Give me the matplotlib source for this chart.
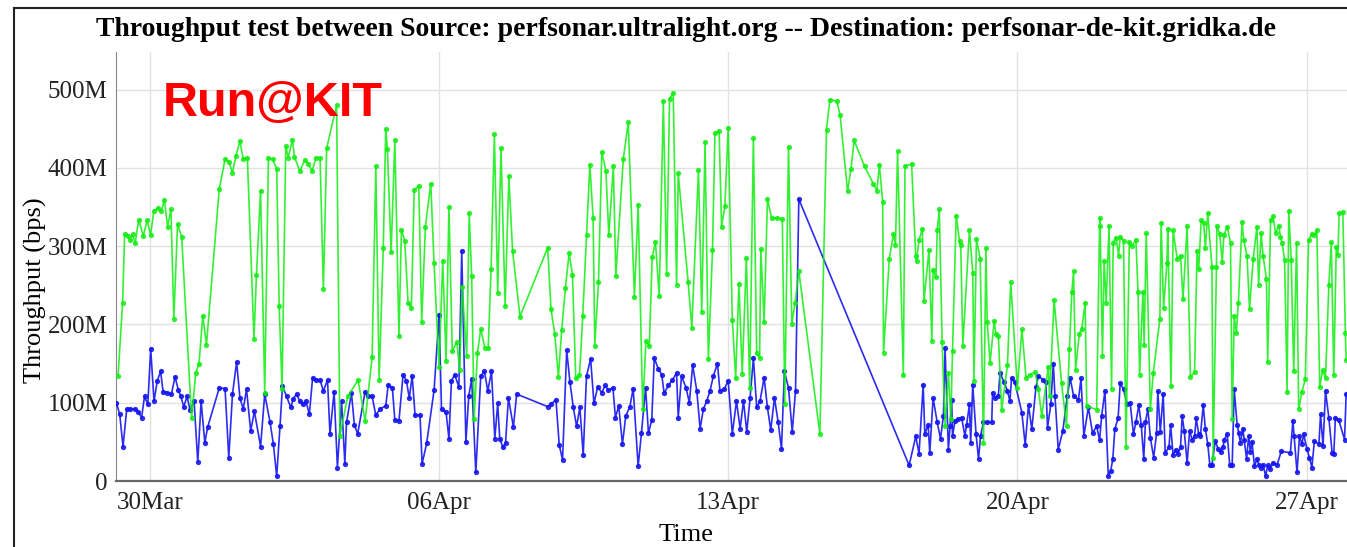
"""
Throughput test chart: perfsonar.ultralight.org -> perfsonar-de-kit.gridka.de
"""

import matplotlib
matplotlib.use("Agg")
import matplotlib.dates as mdates
import matplotlib.pyplot as plt
from matplotlib.lines import Line2D
from matplotlib.ticker import FixedLocator, FuncFormatter
import pandas as pd

# days since 30 Mar 00:00, throughput in Mbps
green_days = [
    -0.77, -0.66, -0.61, -0.52, -0.47, -0.42, -0.355, -0.27, -0.16, -0.065, 0.016, 0.097,
    0.20, 0.28, 0.35, 0.43, 0.51, 0.58, 0.67, 0.77, 1.01, 1.11, 1.19, 1.28, 1.37, 1.68,
    1.82, 1.91, 2.00, 2.08, 2.18, 2.26, 2.36, 2.52, 2.58, 2.68, 2.78, 2.87, 2.97, 3.07,
    3.13, 3.20, 3.29, 3.35, 3.45, 3.50, 3.63, 3.75, 3.83, 3.93, 4.02, 4.12,
    4.20, 4.28, 4.52, 4.60, 4.79, 5.04, 5.21, 5.38, 5.47, 5.55, 5.65, 5.71, 5.75, 5.84,
    5.93, 6.03, 6.09, 6.17, 6.25, 6.33, 6.40, 6.51, 6.58, 6.67, 6.80, 6.88, 7.00, 7.09,
    7.17, 7.24, 7.32, 7.43, 7.50, 7.56, 7.67, 7.73, 7.79, 7.85, 7.93, 8.01, 8.11, 8.19,
    8.26, 8.34, 8.42, 8.50, 8.60, 8.69, 8.78, 8.96,
    9.63, 9.71, 9.80, 9.89, 9.97, 10.06, 10.15, 10.23, 10.31, 10.40, 10.48, 10.57, 10.65,
    10.73, 10.77, 10.86, 10.94, 11.04, 11.11, 11.22, 11.28, 11.46, 11.58, 11.73, 11.82,
    11.93, 12.01, 12.09, 12.16, 12.24, 12.33, 12.43, 12.51, 12.58, 12.67, 12.75, 12.79,
    13.03, 13.12, 13.28, 13.36, 13.44, 13.52, 13.62, 13.68, 13.78, 13.84, 13.92, 14.00,
    14.10, 14.18, 14.26, 14.34, 14.44, 14.52, 14.61, 14.69, 14.76, 14.79, 14.87, 14.95,
    15.05, 15.17, 15.31, 15.37, 15.46, 15.54, 15.62, 15.71, 16.22, 16.38, 16.46, 16.63,
    16.71, 16.89, 16.97, 17.05, 17.30, 17.51, 17.60, 17.66, 17.74, 17.76, 17.90, 18.00,
    18.05, 18.10, 18.24, 18.28, 18.44, 18.54, 18.56, 18.62, 18.70, 18.74, 18.86, 18.93,
    18.96,
    19.03, 19.06, 19.11, 19.18, 19.25, 19.33, 19.39, 19.43, 19.52, 19.60, 19.63, 19.68,
    19.84, 19.92, 19.95, 20.01, 20.10, 20.18, 20.24, 20.27, 20.34, 20.44, 20.48, 20.54,
    20.62, 20.76, 20.84, 21.00, 21.11, 21.21, 21.31, 21.43, 21.51, 21.59, 21.75, 21.78,
    21.89, 22.07, 22.19, 22.26, 22.32, 22.36, 22.41, 22.50, 22.56, 22.64, 22.68, 22.92,
    22.99, 23.00, 23.06, 23.10, 23.15, 23.22, 23.28, 23.32, 23.39, 23.45, 23.49, 23.57,
    23.63, 23.71, 23.77, 23.87, 23.92,
    23.96, 24.04, 24.07, 24.12, 24.22, 24.29, 24.45, 24.48, 24.54, 24.62, 24.64, 24.72,
    24.77, 24.87, 24.95, 25.01, 25.11, 25.19, 25.29, 25.35, 25.39, 25.45, 25.51, 25.55,
    25.61, 25.71, 25.74, 25.82, 25.83, 25.90, 25.96, 26.00, 26.08, 26.16, 26.20, 26.25,
    26.30, 26.35, 26.44, 26.48, 26.56, 26.62, 26.71, 26.80, 26.84, 26.90, 26.95, 27.03,
    27.06, 27.13, 27.19, 27.25, 27.33, 27.37, 27.41, 27.47, 27.53, 27.57, 27.63, 27.69,
    27.76, 27.81, 27.89, 27.97, 28.05, 28.13, 28.19, 28.25, 28.32, 28.39, 28.46, 28.54,
    28.60, 28.66, 28.72, 28.76, 28.79, 28.88, 28.94, 28.96,
]
green_mbps = [
    134, 228, 316, 313, 308, 315, 304, 334, 313, 333, 314, 345,
    349, 345, 359, 325, 347, 207, 328, 312, 80, 138, 150, 211, 174, 373,
    411, 408, 394, 415, 434, 411, 413, 182, 263, 371, 113, 413, 411, 399,
    223, 118, 428, 413, 436, 414, 396, 410, 405, 396, 413, 413,
    245, 425, 480, 58, 108, 129, 77, 158, 402, 129, 298, 450, 424, 292,
    436, 185, 321, 307, 228, 221, 372, 377, 203, 325, 380, 278, 146, 281,
    153, 350, 166, 177, 142, 248, 160, 342, 262, 79, 164, 194, 170, 170,
    271, 443, 240, 425, 223, 389, 294, 210,
    298, 220, 188, 133, 193, 247, 291, 263, 131, 135, 211, 314, 404,
    336, 173, 254, 420, 396, 314, 402, 262, 411, 458, 235, 353,
    92, 179, 172, 286, 305, 236, 485, 264, 488, 496, 251, 393,
    254, 196, 397, 216, 433, 156, 295, 444, 447, 325, 351, 451,
    206, 131, 252, 137, 285, 119, 438, 163, 157, 296, 203, 360,
    336, 336, 335, 98, 427, 201, 228, 268, 60, 449, 487, 485,
    467, 370, 398, 435, 402, 380, 371, 404, 357, 164, 284, 315,
    302, 421, 135, 402, 405, 287, 281, 308, 322, 230, 295, 179,
    270,
    260, 320, 347, 177, 70, 138, 79, 166, 339, 306, 301, 173,
    321, 266, 128, 309, 284, 49, 297, 203, 151, 205, 188, 185,
    91, 148, 254, 119, 194, 132, 136, 139, 117, 83, 146, 108,
    231, 125, 70, 169, 242, 268, 142, 188, 194, 228, 96, 91,
    326, 336, 160, 281, 228, 326, 118, 304, 311, 288, 312, 307,
    44, 305, 300, 308, 242,
    136, 242, 174, 317, 92, 138, 207, 330, 221, 278, 322, 121,
    320, 284, 288, 232, 326, 133, 139, 294, 271, 333, 330, 298,
    342, 274, 30, 274, 326, 315, 280, 314, 325, 304, 79, 211,
    189, 228, 331, 308, 287, 220, 284, 325, 251, 317, 287, 258,
    152, 333, 338, 317, 326, 312, 304, 282, 114, 345, 282, 140,
    304, 92, 114, 130, 308, 316, 314, 321, 120, 142, 131, 250,
    305, 135, 299, 289, 342, 343, 189, 155,
]

blue_days = [
    -0.81, -0.73, -0.65, -0.56, -0.47, -0.355, -0.28, -0.20, -0.13, -0.05, 0.02, 0.10,
    0.18, 0.26, 0.32, 0.42, 0.52, 0.61, 0.69, 0.75, 0.82, 0.90, 0.97, 1.07, 1.16, 1.24,
    1.33, 1.40, 1.68, 1.82, 1.91, 2.00, 2.10, 2.18, 2.26, 2.34, 2.44, 2.53, 2.68, 2.78,
    2.91, 2.99, 3.07, 3.15, 3.21, 3.31, 3.41, 3.47, 3.55, 3.63, 3.71, 3.78, 3.86, 3.94,
    4.02, 4.12,
    4.20, 4.30, 4.36, 4.46, 4.54, 4.64, 4.72, 4.76, 4.88, 4.95, 5.03, 5.21, 5.29, 5.38,
    5.47, 5.57, 5.71, 5.77, 5.87, 5.93, 6.03, 6.13, 6.21, 6.28, 6.35, 6.42, 6.54, 6.59,
    6.70, 6.88, 7.00, 7.06, 7.17, 7.24, 7.30, 7.38, 7.48, 7.55, 7.65, 7.72, 7.79, 7.89,
    8.01, 8.10, 8.18, 8.27, 8.35, 8.42, 8.47, 8.55, 8.61, 8.68, 8.80, 8.88,
    9.63, 9.71, 9.83, 9.91, 9.99, 10.09, 10.17, 10.25, 10.33, 10.41, 10.49, 10.57, 10.67,
    10.75, 10.84, 10.94, 11.02, 11.10, 11.21, 11.27, 11.35, 11.44, 11.52, 11.62, 11.70,
    11.82, 11.90, 12.00, 12.07, 12.15, 12.21, 12.31, 12.39, 12.45, 12.55, 12.65, 12.75,
    12.79, 12.87, 12.98, 13.06, 13.14, 13.24, 13.32, 13.40, 13.48, 13.56, 13.64, 13.74,
    13.80, 13.90, 14.00,
    14.10, 14.20, 14.29, 14.37, 14.45, 14.53, 14.61, 14.69, 14.77, 14.87, 14.95, 15.03,
    15.12, 15.21, 15.29, 15.36, 15.46, 15.55, 15.63, 15.71, 18.38, 18.54, 18.62, 18.72,
    18.76, 18.84, 18.88, 18.96,
    19.06, 19.14, 19.21, 19.25, 19.33, 19.37, 19.41, 19.43, 19.49, 19.57, 19.65, 19.73,
    19.77, 19.84, 19.87, 19.92, 20.00, 20.06, 20.11, 20.18, 20.26, 20.38, 20.40, 20.46,
    20.54, 20.58, 20.68, 20.76, 20.82, 20.86, 20.94, 21.11, 21.19, 21.27, 21.35, 21.45,
    21.51, 21.63, 21.69, 21.73, 21.81, 21.87, 21.91, 21.99, 22.10, 22.21, 22.28, 22.36,
    22.48, 22.54, 22.61, 22.72, 22.82, 22.92, 22.99, 23.04, 23.12, 23.20, 23.26, 23.31,
    23.36, 23.44, 23.49, 23.57, 23.66, 23.73, 23.81, 23.87,
    23.94, 24.00, 24.06, 24.10, 24.16, 24.22, 24.30, 24.37, 24.40, 24.46, 24.53, 24.58,
    24.67, 24.71, 24.77, 24.83, 24.88, 24.95, 24.99, 25.04, 25.11, 25.17, 25.23, 25.29,
    25.33, 25.39, 25.43, 25.50, 25.55, 25.61, 25.66, 25.71, 25.79, 25.86, 25.92, 25.98,
    26.01, 26.08, 26.14, 26.20, 26.25, 26.32, 26.36, 26.40, 26.46, 26.49, 26.55, 26.60,
    26.64, 26.68, 26.74, 26.80, 26.84, 26.90, 26.95, 27.01, 27.06, 27.11, 27.19, 27.29,
    27.39, 27.61, 27.67, 27.70, 27.77, 27.83, 27.89, 27.93, 28.01, 28.07, 28.13, 28.19,
    28.30, 28.34, 28.40, 28.46, 28.54, 28.62, 28.66, 28.70, 28.78, 28.92, 28.96,
]
blue_mbps = [
    100, 85, 44, 92, 92, 92, 88, 81, 108, 98, 169, 102,
    128, 140, 114, 113, 111, 133, 116, 108, 95, 108, 91, 102, 24, 102,
    49, 69, 119, 118, 30, 111, 152, 106, 92, 117, 64, 89, 44, 111,
    75, 47, 6, 70, 121, 108, 94, 105, 111, 102, 98, 102, 85, 132,
    129, 129,
    115, 129, 60, 114, 17, 102, 22, 75, 112, 72, 60, 114, 109, 108,
    84, 92, 96, 123, 119, 78, 77, 136, 128, 106, 134, 84, 84, 22,
    48, 116, 212, 92, 88, 54, 128, 136, 120, 294, 50, 109, 130, 11,
    134, 140, 115, 140, 54, 99, 54, 43, 49, 106, 69, 111,
    95, 98, 104, 46, 27, 167, 126, 94, 70, 94, 33, 134, 156,
    99, 120, 113, 122, 116, 119, 81, 96, 47, 83, 95, 118,
    19, 61, 119, 61, 78, 157, 143, 136, 112, 122, 129, 138,
    81, 134, 119, 100, 148, 115, 67, 92, 102, 115, 134, 150,
    115, 117, 128,
    60, 102, 67, 102, 63, 106, 157, 94, 102, 132, 94, 65,
    106, 75, 41, 140, 119, 63, 115, 360, 20, 57, 35, 123,
    60, 72, 36, 106,
    75, 54, 83, 170, 40, 70, 104, 57, 77, 79, 81, 58,
    71, 98, 49, 123, 60, 28, 58, 75, 75, 75, 113, 106,
    109, 138, 126, 115, 102, 132, 126, 87, 46, 97, 66, 120,
    134, 129, 126, 68, 98, 150, 109, 40, 64, 109, 131, 109,
    104, 131, 58, 94, 61, 70, 52, 83, 115, 7, 13, 28,
    66, 81, 125, 117, 98, 100, 60, 75,
    97, 71, 28, 75, 92, 55, 30, 61, 115, 63, 111, 36,
    43, 72, 33, 40, 34, 43, 83, 64, 23, 64, 53, 57,
    80, 60, 57, 97, 67, 47, 20, 20, 51, 41, 37, 44,
    53, 60, 21, 20, 117, 72, 61, 49, 67, 53, 28, 58,
    37, 50, 19, 28, 21, 17, 21, 6, 20, 15, 23, 21,
    38, 36, 77, 57, 11, 57, 47, 60, 41, 30, 17, 51,
    47, 85, 45, 115, 81, 36, 34, 81, 78, 53, 111,
]

tick_dates = ["2016-03-30", "2016-04-06", "2016-04-13", "2016-04-20", "2016-04-27"]
ytick_values = [0, 100e6, 200e6, 300e6, 400e6, 500e6]
ytick_labels = ["0", "100M", "200M", "300M", "400M", "500M"]

SERIF = ["Liberation Serif", "DejaVu Serif"]
W, H = 1347, 547
base = pd.Timestamp("2016-03-30")


def to_time(days):
    return base + pd.to_timedelta(days, unit="D")


fig = plt.figure(figsize=(W / 100, H / 100), dpi=100)
ax = fig.add_axes([116 / W, 1 - 481 / H, 1 - 116 / W, 429 / H])

bt = to_time(blue_days)
gt = to_time(green_days)
ax.plot(bt, [v * 1e6 for v in blue_mbps], color="#1414f0", lw=1.2, marker="o",
        ms=3.8, mew=0, alpha=0.9, zorder=3)
ax.plot(gt, [v * 1e6 for v in green_mbps], color="#10ee10", lw=1.2, marker="o",
        ms=3.8, mew=0, alpha=0.85, zorder=4)

ax.set_xlim(to_time(-0.82), to_time(28.98))
ax.set_ylim(0, 548e6)

ax.xaxis.set_major_locator(FixedLocator(mdates.date2num(pd.to_datetime(tick_dates))))
ax.xaxis.set_major_formatter(mdates.DateFormatter("%d%b"))
ax.yaxis.set_major_locator(FixedLocator(ytick_values))
ax.yaxis.set_major_formatter(FuncFormatter(lambda v, p: ytick_labels[ytick_values.index(v)]
                                           if v in ytick_values else ""))

ax.grid(True, color="#e2e2e2", lw=1.0)
ax.set_axisbelow(True)
for side in ["top", "right"]:
    ax.spines[side].set_visible(False)
ax.spines["left"].set_color("#888888")
ax.spines["bottom"].set_color("#666666")
ax.spines["bottom"].set_linewidth(1.6)
ax.tick_params(axis="y", length=0, pad=6, labelsize=18, labelcolor="#222222")
ax.tick_params(axis="x", length=0, pad=8, labelsize=18, labelcolor="#222222")
for lab in ax.get_xticklabels() + ax.get_yticklabels():
    lab.set_family(SERIF)

# axis titles, placed in figure pixels to match the original page layout
fig.text(686 / W, 1 - 535 / H, "Time", family=SERIF, fontsize=19,
         ha="center", va="center")
fig.text(35 / W, 1 - 290 / H, "Throughput (bps)", family=SERIF, fontsize=19,
         rotation=90, ha="center", va="center")

fig.text(686 / W, 1 - 30 / H, "Throughput test between Source: perfsonar.ultralight.org -- "
         "Destination: perfsonar-de-kit.gridka.de", family=SERIF, weight="bold",
         fontsize=20, ha="center", va="center")
ax.text(0.038, 0.88, "Run@KIT", transform=ax.transAxes, color="#ff0000",
        family=["Liberation Sans", "DejaVu Sans"], weight="bold", fontsize=35,
        ha="left", va="center", zorder=5)

# outer frame lines (top and left)
fig.add_artist(Line2D([14 / W, 1], [1 - 8 / H, 1 - 8 / H], color="#222222", lw=1.5))
fig.add_artist(Line2D([14 / W, 14 / W], [0, 1 - 8 / H], color="#222222", lw=1.5))

fig.savefig("out.png", dpi=100)
